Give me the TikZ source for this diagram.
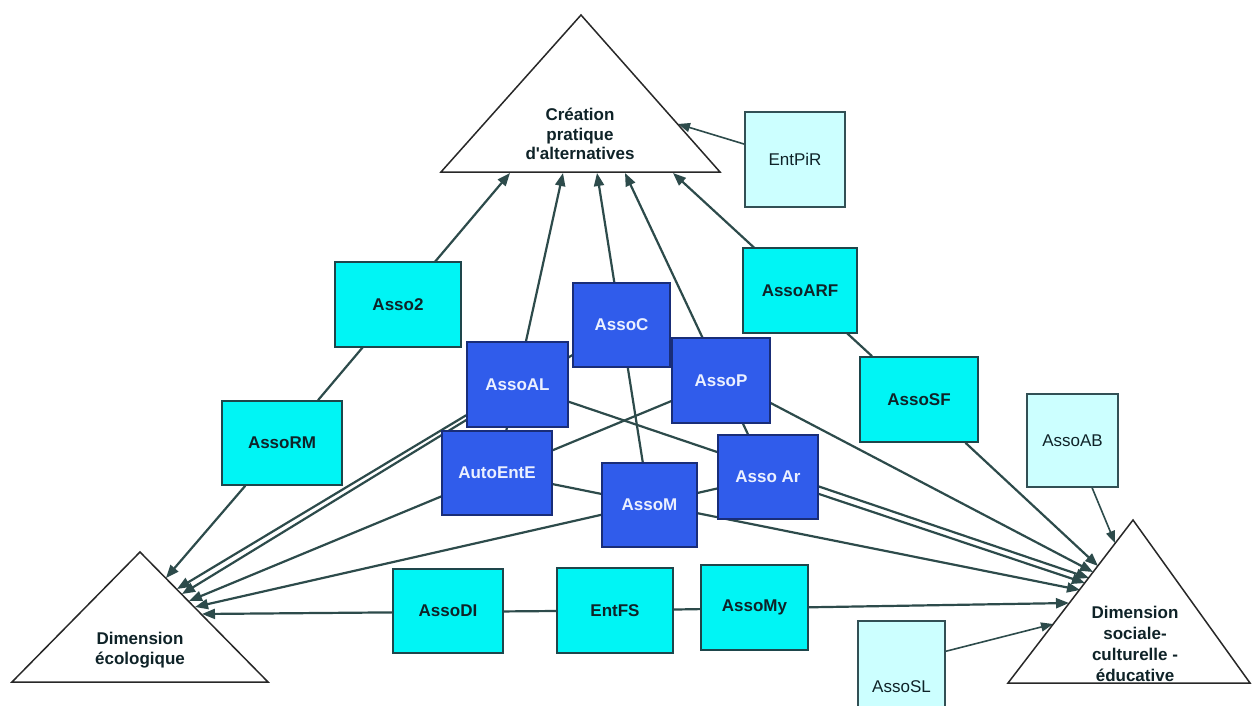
\documentclass[tikz,border=0pt]{standalone}
\usepackage{fontspec}
\setmainfont{Liberation Sans}
\usetikzlibrary{arrows.meta,backgrounds,calc}
\definecolor{cyanfill}{RGB}{0,245,245}
\definecolor{cyanline}{RGB}{30,70,75}
\definecolor{bluefill}{RGB}{48,92,235}
\definecolor{blueline}{RGB}{25,45,120}
\definecolor{lightfill}{RGB}{204,255,255}
\definecolor{lightline}{RGB}{50,80,85}
\definecolor{conncol}{RGB}{45,75,75}
\definecolor{darktext}{RGB}{15,35,40}
\definecolor{bluetext}{RGB}{235,240,255}
\definecolor{trisline}{RGB}{40,40,40}
\begin{document}
\begin{tikzpicture}[x=1pt,y=-1pt,
  boxbase/.style={rectangle, inner sep=0pt, line width=1.6pt, align=center},
  cbox/.style={boxbase, fill=cyanfill, draw=cyanline, text=darktext, font=\fontsize{17}{19.5}\selectfont\bfseries},
  bbox/.style={boxbase, fill=bluefill, draw=blueline, text=bluetext, font=\fontsize{17}{19.5}\selectfont\bfseries},
  lbox/.style={boxbase, fill=lightfill, draw=lightline, text=darktext, line width=1.4pt, font=\fontsize{17}{19.5}\selectfont},
  tri/.style={draw=trisline, line width=1.5pt, fill=white, line join=miter},
  tritext/.style={inner sep=0pt, align=center, text=darktext, font=\fontsize{17}{19.5}\selectfont\bfseries},
  conn/.style={draw=conncol, line width=2.2pt, -{Triangle[length=13pt,width=10pt]}},
  thinconn/.style={draw=conncol, line width=1.6pt, -{Triangle[length=12pt,width=9pt]}}
]
\useasboundingbox (0,0) rectangle (1252,706);
\clip (0,0) rectangle (1252,706);

% triangles
\coordinate (TA) at (581,15);
\coordinate (TL) at (441,172);
\coordinate (TR) at (720,172);
\draw[tri] (TA) -- (TR) -- (TL) -- cycle;
\node[tritext] (creation) at (580,134) {Création\\pratique\\d\textquotesingle alternatives};

\coordinate (LA) at (140,552);
\coordinate (LL) at (12,682);
\coordinate (LR) at (268,682);
\draw[tri] (LA) -- (LR) -- (LL) -- cycle;
\node[tritext] (ecolo) at (140,650) {Dimension\\écologique};

\coordinate (RA) at (1133,520);
\coordinate (RL) at (1008,683);
\coordinate (RR) at (1250,683);
\draw[tri] (RA) -- (RR) -- (RL) -- cycle;
\node[tritext, font=\fontsize{17}{20.8}\selectfont\bfseries] (sociale) at (1135,644) {Dimension\\sociale-\\culturelle -\\éducative};

% boxes
\node[cbox, minimum width=126pt, minimum height=85pt] (asso2) at (398,304.5) {Asso2};
\node[cbox, minimum width=120pt, minimum height=84pt] (assorm) at (282,443) {AssoRM};
\node[cbox, minimum width=114pt, minimum height=85pt] (assoarf) at (800,290.5) {AssoARF};
\node[cbox, minimum width=118pt, minimum height=85pt] (assosf) at (919,399.5) {AssoSF};
\node[cbox, minimum width=110pt, minimum height=84pt] (assodi) at (448,611) {AssoDI};
\node[cbox, minimum width=116pt, minimum height=85pt] (entfs) at (615,610.5) {EntFS};
\node[cbox, minimum width=107pt, minimum height=85pt] (assomy) at (754.5,607.5) {AssoMy};

\node[bbox, minimum width=101pt, minimum height=85pt] (assoal) at (517.5,384.5) {AssoAL};
\node[bbox, minimum width=97pt, minimum height=84pt] (assoc) at (621.5,325) {AssoC};
\node[bbox, minimum width=98pt, minimum height=85pt] (assop) at (721,380.5) {AssoP};
\node[bbox, minimum width=110pt, minimum height=84pt] (autoente) at (497,473) {AutoEntE};
\node[bbox, minimum width=95pt, minimum height=84pt] (assom) at (649.5,505) {AssoM};
\node[bbox, minimum width=100pt, minimum height=84pt] (assoar) at (768,477) {Asso Ar};

\node[lbox, minimum width=100pt, minimum height=95pt] (entpir) at (795,159.5) {EntPiR};
\node[lbox, minimum width=91pt, minimum height=93pt] (assoab) at (1072.5,440.5) {AssoAB};
\node[lbox, minimum width=87pt, minimum height=132pt] (assosl) at (901.5,687) {AssoSL};

% arrow targets on the triangles
\coordinate (tA) at (510,173);
\coordinate (tB) at (563,173);
\coordinate (tC) at (597,173);
\coordinate (tD) at (625,173);
\coordinate (tE) at (673,173);
\coordinate (tF) at (678,124);

\coordinate (lA) at (166,578);
\coordinate (lB) at (177,589);
\coordinate (lC) at (182,594);
\coordinate (lD) at (189,601);
\coordinate (lE) at (195,607);
\coordinate (lF) at (202,614);

\coordinate (rA) at (1115,543);
\coordinate (rB) at (1098,566);
\coordinate (rC) at (1093,572);
\coordinate (rD) at (1089,578);
\coordinate (rE) at (1085,583);
\coordinate (rF) at (1080,590);
\coordinate (rG) at (1069,603);
\coordinate (rH) at (1053,624);

\begin{pgfonlayer}{background}
  \fill[white] (0,0) rectangle (1252,706);
  % to Création pratique d'alternatives
  \draw[conn] (assorm) -- (tA);
  \draw[conn] (autoente) -- (tB);
  \draw[conn] (assom) -- (tC);
  \draw[conn] (assoar) -- (tD);
  \draw[conn] (assosf) -- (tE);
  \draw[thinconn] (entpir) -- (tF);
  % to Dimension écologique
  \draw[conn] (assorm) -- (lA);
  \draw[conn] (assoal) -- (lB);
  \draw[conn] (assoc) -- (lC);
  \draw[conn] (assop) -- (lD);
  \draw[conn] (assoar) -- (lE);
  \draw[conn] (entfs) -- (lF);
  % to Dimension sociale-culturelle-éducative
  \draw[thinconn] (assoab) -- (rA);
  \draw[conn] (assosf) -- (rB);
  \draw[conn] (assoc) -- (rC);
  \draw[conn] (assoal) -- (rD);
  \draw[conn] (assoar) -- (rE);
  \draw[conn] (autoente) -- (rF);
  \draw[conn] (entfs) -- (rG);
  \draw[thinconn] ($(assosl.north east)+(0,31)$) -- (rH);
\end{pgfonlayer}
\end{tikzpicture}
\end{document}
